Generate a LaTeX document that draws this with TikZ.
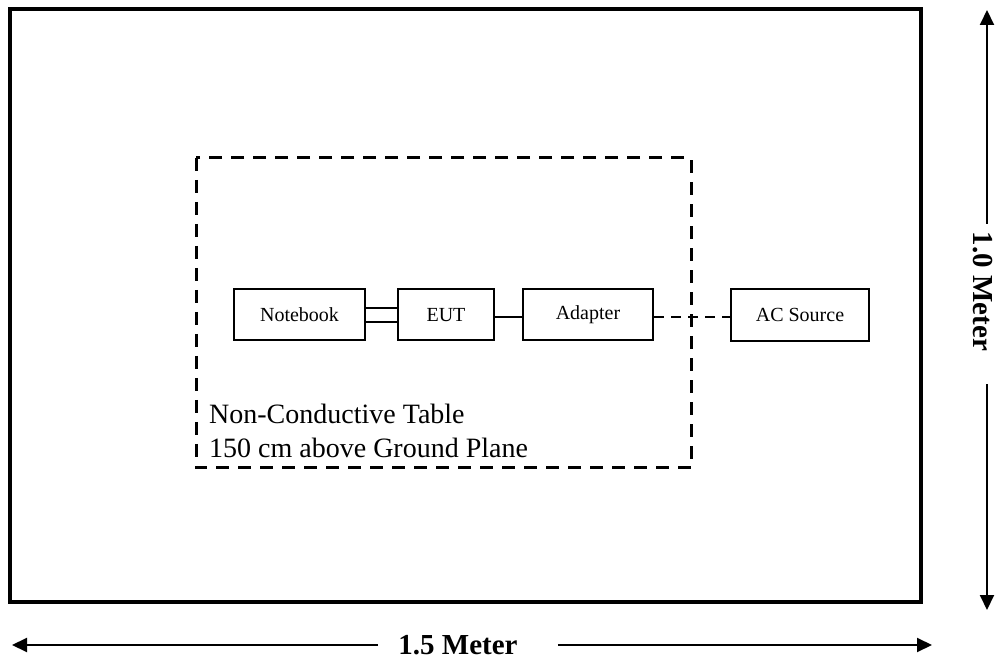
\documentclass[tikz,border=0pt]{standalone}
\usepackage{fontspec}
\setmainfont{Liberation Serif}
\usetikzlibrary{arrows.meta, calc, positioning}

\tikzset{
  unit/.style={draw, line width=2pt, minimum height=51pt, inner sep=0pt,
    font=\fontsize{20}{24}\selectfont},
  measure/.style={line width=2pt, -{Triangle[length=15pt,width=14pt]}},
  meterlabel/.style={inner sep=0pt, font=\fontsize{29}{34}\bfseries\selectfont}
}

\begin{document}
\begin{tikzpicture}[x=1pt, y=-1pt]

\useasboundingbox (0,0) rectangle (997,660);

% Ground plane
\draw[line width=3.5pt] (10,9) rectangle (921,602);

% Non-conductive table
\draw[line width=3pt, dash pattern=on 13pt off 9pt] (196,158) rectangle (691,468);
\node[anchor=north west, inner sep=0pt, align=left,
  font=\fontsize{28}{34}\selectfont] (tabletext) at (209,404)
  {Non-Conductive Table\\150 cm above Ground Plane};

% Units
\node[unit, minimum width=131pt] (notebook) at (299.5,315) {Notebook};
\node[unit, minimum width=96pt] (eut) at (446,315) {EUT};
\node[unit, minimum width=130pt] (adapter) at (588,315) {Adapter};
\node[unit, minimum width=138pt, minimum height=52pt] (acsource) at (800,315) {AC Source};

% Cables
\draw[line width=2pt] ([yshift=7pt]notebook.east) -- ([yshift=7pt]eut.west);
\draw[line width=2pt] ([yshift=-7pt]notebook.east) -- ([yshift=-7pt]eut.west);
\draw[line width=2pt] ([yshift=-2pt]eut.east) -- ([yshift=-2pt]adapter.west);
\draw[line width=2pt, dash pattern=on 10pt off 7pt] ([yshift=-2pt]adapter.east) -- ([yshift=-2pt]acsource.west);

% Width of the ground plane
\coordinate (hleft) at (12,645);
\coordinate (hright) at (932,645);
\node[meterlabel] (hlabel) at (458,645) {1.5 Meter};
\draw[measure] ([xshift=-20pt]hlabel.west) -- (hleft);
\draw[measure] ([xshift=40pt]hlabel.east) -- (hright);

% Depth of the ground plane
\coordinate (vtop) at (987,10);
\coordinate (vbottom) at (987,610);
\node[meterlabel, rotate=-90] (vlabel) at (983,291.5) {1.0 Meter};
\draw[measure] ($(vlabel.west -| vtop)+(0,-8)$) -- (vtop);
\draw[measure] ($(vlabel.east -| vbottom)+(0,33)$) -- (vbottom);

\end{tikzpicture}
\end{document}
